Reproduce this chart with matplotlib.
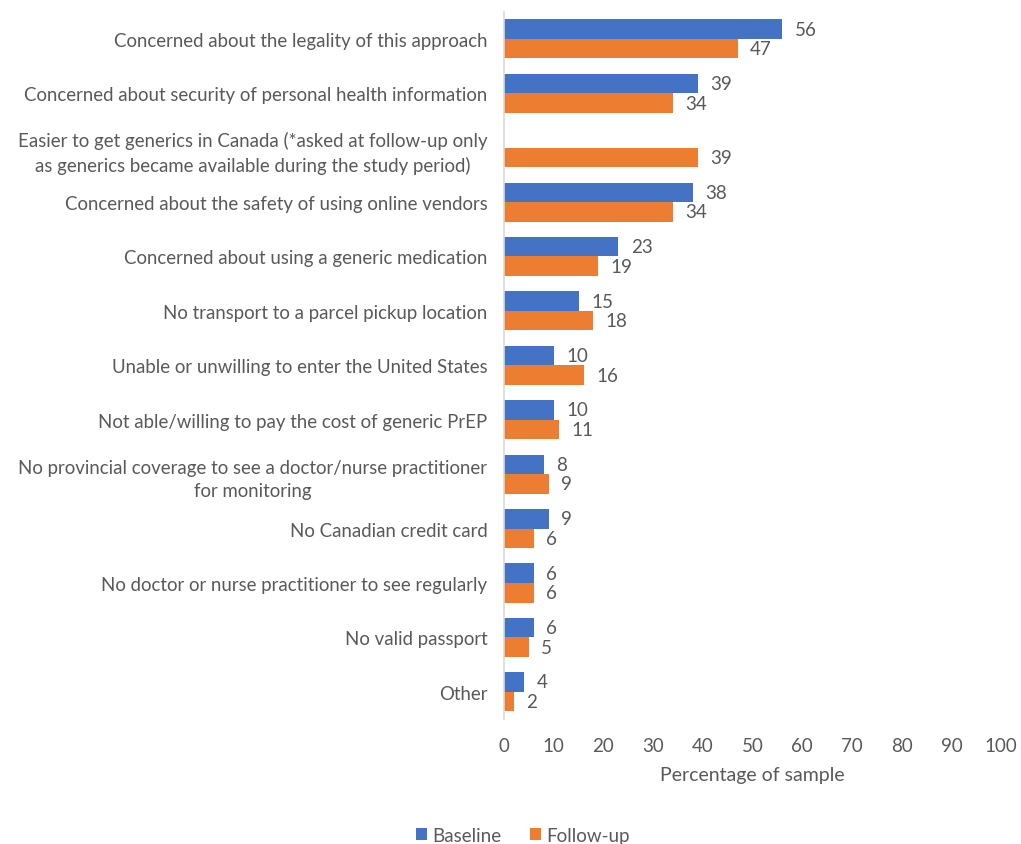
import numpy as np
import matplotlib
matplotlib.use('Agg')
import matplotlib.pyplot as plt

# 数据（从上到下）
categories = [
    'Concerned about the legality of this approach',
    'Concerned about security of personal health information',
    'Easier to get generics in Canada (*asked at follow-up only\nas generics became available during the study period)',
    'Concerned about the safety of using online vendors',
    'Concerned about using a generic medication',
    'No transport to a parcel pickup location',
    'Unable or unwilling to enter the United States',
    'Not able/willing to pay the cost of generic PrEP',
    'No provincial coverage to see a doctor/nurse practitioner\nfor monitoring',
    'No Canadian credit card',
    'No doctor or nurse practitioner to see regularly',
    'No valid passport',
    'Other',
]
baseline = [56, 39, np.nan, 38, 23, 15, 10, 10, 8, 9, 6, 6, 4]
followup = [47, 34, 39, 34, 19, 18, 16, 11, 9, 6, 6, 5, 2]

plt.rcParams['font.family'] = ['Lato', 'DejaVu Sans']
txt = '#595959'

fig = plt.figure(figsize=(10.21, 8.45), dpi=100)
ax = fig.add_axes([0.4936, 0.148, 0.487, 0.837])

index = np.arange(len(categories))
h = 0.36
ax.barh(index - h / 2, baseline, h, color='#4472C4', label='Baseline')
ax.barh(index + h / 2, followup, h, color='#ED7D31', label='Follow-up')

# 数值标签
for i, (b, f) in enumerate(zip(baseline, followup)):
    if not np.isnan(b):
        ax.text(b + 2.5, i - h / 2, '%d' % b, va='center', ha='left', fontsize=13.5, color=txt)
    ax.text(f + 2.5, i + h / 2, '%d' % f, va='center', ha='left', fontsize=13.5, color=txt)

ax.set_yticks(index)
ax.set_yticklabels(categories, fontsize=13.4, color=txt, ha='right',
                   multialignment='center', linespacing=1.45)
ax.tick_params(axis='y', length=0, pad=12)
ax.set_ylim(len(categories) - 0.5, -0.5)

ax.set_xlim(0, 100)
ax.set_xticks(np.arange(0, 101, 10))
ax.tick_params(axis='x', length=0, labelsize=13.5, labelcolor=txt, pad=13)
ax.set_xlabel('Percentage of sample', fontsize=14, color=txt, labelpad=9)

for s in ['top', 'right', 'bottom']:
    ax.spines[s].set_visible(False)
ax.spines['left'].set_color('#D9D9D9')
ax.spines['left'].set_linewidth(1.2)

fig.legend(loc='lower center', bbox_to_anchor=(0.512, -0.02), ncol=2, frameon=False,
           fontsize=13.5, labelcolor=txt, handlelength=0.6, handleheight=0.6,
           handletextpad=0.3, columnspacing=1.5)

plt.savefig('out.png', dpi=100)
